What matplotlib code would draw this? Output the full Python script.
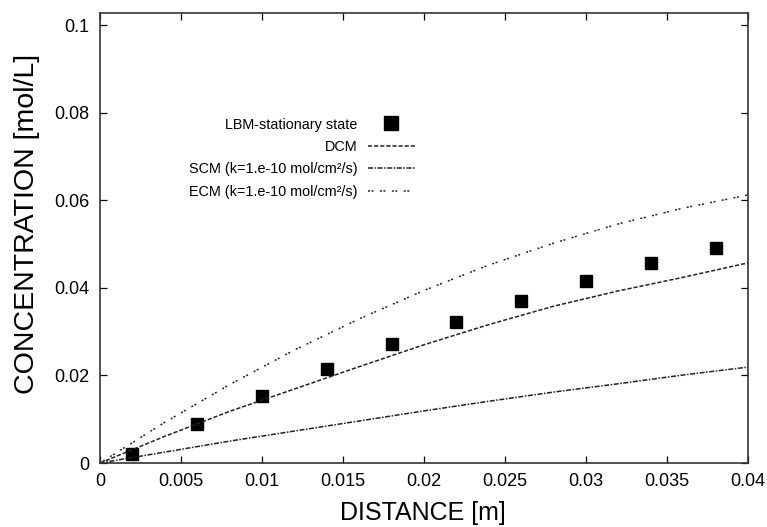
import numpy as np
import matplotlib
matplotlib.use("Agg")
import matplotlib.pyplot as plt

plt.rcParams['font.family'] = ['Liberation Sans', 'DejaVu Sans']

# LBM stationary state points
lbm_x = [0.002, 0.006, 0.010, 0.014, 0.018, 0.022, 0.026, 0.030, 0.034, 0.038]
lbm_y = [0.0021, 0.0089, 0.0153, 0.0215, 0.0271, 0.0322, 0.0370, 0.0416, 0.0457, 0.0491]

# model curves
curve_x = [0.0, 0.004, 0.008, 0.012, 0.016, 0.020, 0.024, 0.028, 0.032, 0.036, 0.040]
dcm_y = [0.0, 0.0061, 0.0118, 0.0169, 0.0220, 0.0270, 0.0316, 0.0358, 0.0393, 0.0424, 0.0457]
scm_y = [0.0, 0.0025, 0.0050, 0.0073, 0.0096, 0.0119, 0.0141, 0.0162, 0.0181, 0.0201, 0.0219]
ecm_y = [0.0, 0.0093, 0.0179, 0.0258, 0.0329, 0.0394, 0.0452, 0.0502, 0.0546, 0.0582, 0.0612]

xticks = [0, 0.005, 0.01, 0.015, 0.02, 0.025, 0.03, 0.035, 0.04]
xtick_labels = ['0', '0.005', '0.01', '0.015', '0.02', '0.025', '0.03', '0.035', '0.04']
yticks = [0, 0.02, 0.04, 0.06, 0.08, 0.1]
ytick_labels = ['0', '0.02', '0.04', '0.06', '0.08', '0.1']

fig = plt.figure(figsize=(7.67, 5.27), dpi=100)
ax = fig.add_axes([0.1304, 0.1214, 0.8448, 0.8539])

ax.plot(lbm_x, lbm_y, 's', color='black', markersize=9.3, label='LBM-stationary state')
ax.plot(curve_x, dcm_y, color='#222222', lw=1.1, dashes=(2.7, 1.3), label='DCM')
ax.plot(curve_x, scm_y, color='#222222', lw=1.1, dashes=(3.3, 1.0, 1.0, 1.0),
        label='SCM (k=1.e-10 mol/cm²/s)')
ax.plot(curve_x, ecm_y, color='#222222', lw=1.1, dashes=(1.3, 1.0, 1.3, 4.2),
        label='ECM (k=1.e-10 mol/cm²/s)')

ax.set_xlim(0, 0.04)
ax.set_ylim(0, 0.10274)
ax.set_xticks(xticks)
ax.set_xticklabels(xtick_labels)
ax.set_yticks(yticks)
ax.set_yticklabels(ytick_labels)
ax.tick_params(direction='in', top=True, right=True, length=5, width=0.9,
               labelsize=13, pad=7.5)
for s in ax.spines.values():
    s.set_linewidth(1.2)
    s.set_color('#333333')

ax.set_xlabel('DISTANCE [m]', fontsize=18)
ax.set_ylabel('CONCENTRATION [mol/L]', fontsize=20.5)
ax.xaxis.set_label_coords(0.4977, -0.084)
ax.yaxis.set_label_coords(-0.093, 0.531)

ax.legend(loc='upper right', bbox_to_anchor=(0.549, 0.788), bbox_transform=fig.transFigure,
          borderaxespad=0, frameon=False, markerfirst=False, fontsize=10.4,
          handlelength=3.3, labelspacing=0.58, handletextpad=0.7, markerscale=1.07)

fig.savefig('out.png', dpi=100)
